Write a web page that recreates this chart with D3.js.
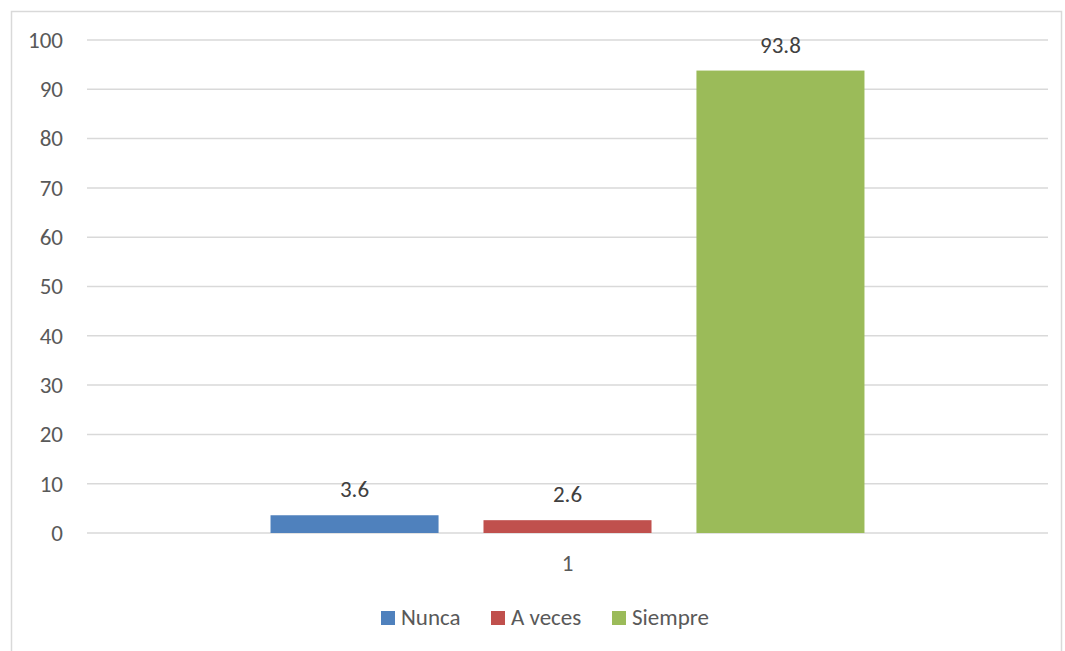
<!DOCTYPE html>
<html>
<head>
<meta charset="utf-8">
<script src="https://cdn.jsdelivr.net/npm/d3@7"></script>
<style>
  body { margin: 0; background: #fff; }
  svg { font-family: Carlito, "Open Sans", "Liberation Sans", sans-serif; }
</style>
</head>
<body>
<script>
// chart data
const categories = ['1'];
const seriesNames = ['Nunca', 'A veces', 'Siempre'];
const seriesValues = [3.6, 2.6, 93.8];
const seriesColors = ['#4f81bd', '#c0504d', '#9bbb59'];
const yTicks = [0, 10, 20, 30, 40, 50, 60, 70, 80, 90, 100];

const width = 1065;
const height = 651;
const margin = { top: 40, right: 17, bottom: 118, left: 87 };
const innerWidth = width - margin.left - margin.right;
const innerHeight = height - margin.top - margin.bottom;
const fontSize = '23px';

const svg = d3.select('body').append('svg')
  .attr('width', width)
  .attr('height', height);

// chart frame (bottom edge runs off the picture)
svg.append('path')
  .attr('d', 'M11.5,651 V11.5 H1061.5 V651')
  .attr('fill', 'none')
  .attr('stroke', '#d9d9d9')
  .attr('stroke-width', 1.5);

const g = svg.append('g')
  .attr('transform', `translate(${margin.left}, ${margin.top})`);

const yScale = d3.scaleLinear().domain([0, 100]).range([innerHeight, 0]);

const x0 = d3.scaleBand().domain(categories)
  .range([0, innerWidth])
  .paddingInner(0)
  .paddingOuter(0.309);

const x1 = d3.scaleBand().domain(seriesNames)
  .range([0, x0.bandwidth()])
  .paddingInner(0.211)
  .paddingOuter(0);

// gridlines
g.selectAll('line.grid').data(yTicks)
  .enter().append('line')
  .attr('class', 'grid')
  .attr('x1', 0).attr('x2', innerWidth)
  .attr('y1', d => yScale(d)).attr('y2', d => yScale(d))
  .attr('stroke', '#d9d9d9')
  .attr('stroke-width', 1.5);

// y axis labels
const yAxis = d3.axisLeft(yScale).tickValues(yTicks).tickSize(0).tickPadding(24);
const yAxisG = g.append('g').call(yAxis);
yAxisG.select('.domain').remove();
yAxisG.selectAll('text')
  .attr('fill', '#595959')
  .style('font-size', fontSize)
  .style('font-family', 'Carlito, "Open Sans", "Liberation Sans", sans-serif');

// x axis labels
const xAxis = d3.axisBottom(x0).tickSize(0).tickPadding(22);
const xAxisG = g.append('g')
  .attr('transform', `translate(0, ${innerHeight})`)
  .call(xAxis);
xAxisG.select('.domain').remove();
xAxisG.selectAll('text')
  .attr('fill', '#595959')
  .style('font-size', fontSize)
  .style('font-family', 'Carlito, "Open Sans", "Liberation Sans", sans-serif');

// bars
const rows = seriesNames.map((s, i) => ({ cat: categories[0], name: s, value: seriesValues[i], color: seriesColors[i] }));

const groups = g.selectAll('g.cat').data(categories)
  .enter().append('g')
  .attr('class', 'cat')
  .attr('transform', d => `translate(${x0(d)}, 0)`);

groups.selectAll('rect').data(d => rows.filter(r => r.cat === d))
  .enter().append('rect')
  .attr('x', d => x1(d.name))
  .attr('y', d => yScale(d.value))
  .attr('width', x1.bandwidth())
  .attr('height', d => innerHeight - yScale(d.value))
  .attr('fill', d => d.color);

groups.selectAll('text.value').data(d => rows.filter(r => r.cat === d))
  .enter().append('text')
  .attr('class', 'value')
  .attr('x', d => x1(d.name) + x1.bandwidth() / 2)
  .attr('y', d => yScale(d.value) - 18)
  .attr('text-anchor', 'middle')
  .attr('fill', '#404040')
  .style('font-size', fontSize)
  .text(d => d.value.toFixed(1));

// legend
const legendX = [381, 491, 612];
const legend = svg.append('g').attr('transform', 'translate(0, 611)');
const items = legend.selectAll('g').data(rows)
  .enter().append('g')
  .attr('transform', (d, i) => `translate(${legendX[i]}, 0)`);
items.append('rect')
  .attr('width', 14).attr('height', 14)
  .attr('fill', d => d.color);
items.append('text')
  .attr('x', 20).attr('y', 14)
  .attr('fill', '#595959')
  .style('font-size', fontSize)
  .text(d => d.name);
</script>
</body>
</html>
